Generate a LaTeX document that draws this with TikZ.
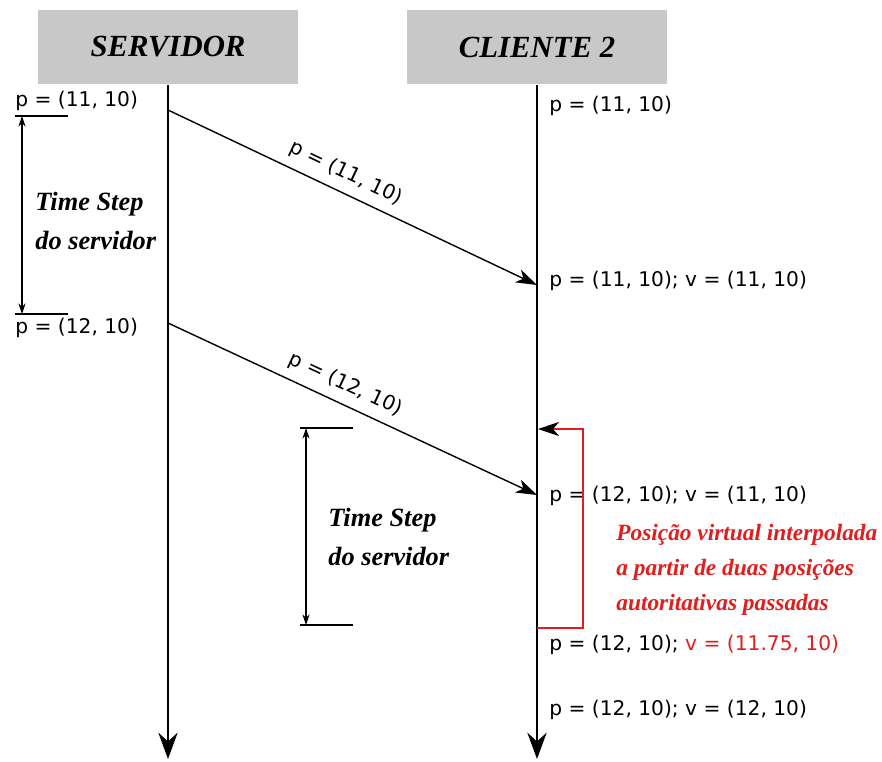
\documentclass[tikz,border=0pt]{standalone}
\usepackage{fontspec}
\setmainfont{Liberation Serif}
\newfontfamily\valfont{DejaVu Sans}
\usetikzlibrary{arrows.meta}
\definecolor{headgray}{RGB}{200,200,200}
\definecolor{interp}{RGB}{225,30,30}

\begin{document}
\begin{tikzpicture}[x=0.02cm,y=-0.02cm,
  val/.style={font=\valfont\fontsize{11.5}{14}\selectfont, inner sep=0pt},
  note/.style={font=\bfseries\itshape\fontsize{15}{22.5}\selectfont, align=left, inner sep=0pt},
  head/.style={fill=headgray, minimum width=5.2cm, minimum height=1.5cm, font=\bfseries\itshape\fontsize{17.5}{20}\selectfont},
  life/.style={line width=1.1pt, -{Stealth[length=15pt,width=11pt,inset=5pt]}},
  msg/.style={line width=0.8pt, -{Stealth[length=12pt,width=8pt,inset=3.5pt]}},
  span/.style={line width=0.6pt, {Stealth[length=6pt,width=4pt]}-{Stealth[length=6pt,width=4pt]}}]
  \useasboundingbox (0,0) rectangle (882,761);

  \node[head] (srv) at (168,47) {SERVIDOR};
  \node[head] (cli) at (537,47) {CLIENTE 2};
  \coordinate (srvend) at (168,759);
  \coordinate (cliend) at (537,759);
  \draw[life] (srv.south) -- (srvend);
  \draw[life] (cli.south) -- (cliend);

  % mensagens do servidor
  \coordinate (s1) at (168,110);
  \coordinate (s2) at (168,323);
  \coordinate (c1) at (537,285);
  \coordinate (c2) at (537,495);
  \draw[msg] (s1) -- node[val, sloped, above=5pt, pos=0.46] {p = (11, 10)} (c1);
  \draw[msg] (s2) -- node[val, sloped, above=5pt, pos=0.46] {p = (12, 10)} (c2);

  % time step no servidor
  \node[val, anchor=west] (sp1) at (15,101) {p = (11, 10)};
  \node[val, anchor=west] (sp2) at (15,328) {p = (12, 10)};
  \coordinate (ta1) at (15,116); \coordinate (tb1) at (68,116);
  \coordinate (ta2) at (15,314); \coordinate (tb2) at (68,314);
  \draw[line width=0.6pt] (ta1) -- (tb1);
  \draw[line width=0.6pt] (ta2) -- (tb2);
  \coordinate (sa) at (22,116); \coordinate (sb) at (22,314);
  \draw[span] (sa) -- (sb);
  \node[note, anchor=west] (ts1) at (35,221) {Time Step\\do servidor};

  % time step no cliente
  \coordinate (ta3) at (300,428); \coordinate (tb3) at (353,428);
  \coordinate (ta4) at (300,625); \coordinate (tb4) at (353,625);
  \draw[line width=0.6pt] (ta3) -- (tb3);
  \draw[line width=0.6pt] (ta4) -- (tb4);
  \coordinate (ca) at (306,428); \coordinate (cb) at (306,625);
  \draw[span] (ca) -- (cb);
  \node[note, anchor=west] (ts2) at (328,537) {Time Step\\do servidor};

  % estados no cliente
  \node[val, anchor=west] (cp1) at (549,106) {p = (11, 10)};
  \node[val, anchor=west] (cp2) at (549,281) {p = (11, 10); v = (11, 10)};
  \node[val, anchor=west] (cp3) at (549,496) {p = (12, 10); v = (11, 10)};
  \node[val, anchor=west] (cp4) at (549,645) {p = (12, 10); \textcolor{interp}{v = (11.75, 10)}};
  \node[val, anchor=west] (cp5) at (549,710) {p = (12, 10); v = (12, 10)};

  % interpolacao
  \coordinate (ia) at (537,628); \coordinate (ib) at (583,628);
  \coordinate (ic) at (583,429); \coordinate (id) at (538,429);
  \draw[interp, line width=0.8pt, -{Stealth[black,length=12pt,width=8pt,inset=3.5pt]}] (ia) -- (ib) -- (ic) -- (id);
  \node[note, text=interp, anchor=west, font=\bfseries\itshape\fontsize{13.3}{20}\selectfont] (itxt) at (616,570)
    {Posição virtual interpolada\\a partir de duas posições\\autoritativas passadas};
\end{tikzpicture}
\end{document}
